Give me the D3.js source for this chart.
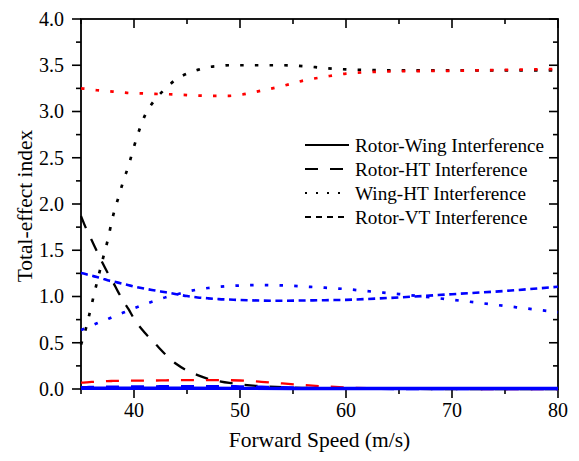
<!DOCTYPE html>
<html>
<head>
<meta charset="utf-8">
<script src="https://cdn.jsdelivr.net/npm/d3@7"></script>
<style>
  html, body { margin: 0; padding: 0; background: #fff; }
  svg { display: block; }
</style>
</head>
<body>
<svg id="chart" width="579" height="461"></svg>
<script>
// ---------------- data ----------------
const speed = [35,35.5,36,36.5,37,37.5,38,38.5,39,39.5,40,41,42,43,44,45,46,47,48,49,50,52,54,56,58,60,62,65,70,75,80];

const blackWingHT = [0.48,0.67,0.91,1.15,1.38,1.60,1.86,2.06,2.25,2.42,2.62,2.95,3.13,3.25,3.35,3.41,3.45,3.48,3.49,3.50,3.50,3.50,3.50,3.49,3.47,3.455,3.45,3.445,3.445,3.445,3.445];
const redWingHT   = [3.25,3.245,3.235,3.23,3.225,3.22,3.215,3.21,3.205,3.20,3.198,3.195,3.19,3.188,3.183,3.178,3.172,3.17,3.17,3.17,3.18,3.225,3.275,3.335,3.375,3.41,3.425,3.435,3.44,3.45,3.46];
const blueWingHT  = [0.638,0.66,0.685,0.71,0.733,0.755,0.78,0.803,0.826,0.85,0.872,0.915,0.955,0.992,1.022,1.052,1.075,1.092,1.104,1.113,1.119,1.124,1.12,1.108,1.095,1.08,1.058,1.026,0.965,0.898,0.83];
const blueRotorVT = [1.255,1.24,1.225,1.21,1.195,1.175,1.163,1.15,1.136,1.122,1.108,1.085,1.065,1.045,1.025,1.005,0.99,0.98,0.972,0.967,0.962,0.956,0.954,0.957,0.96,0.964,0.973,0.99,1.025,1.06,1.105];
const blackRotorHT = [1.87,1.73,1.61,1.49,1.37,1.26,1.16,1.05,0.95,0.86,0.76,0.61,0.49,0.37,0.27,0.20,0.15,0.11,0.085,0.065,0.05,0.03,0.02,0.012,0.006,0.003,0.002,0.001,0,0,0];
const redRotorHT   = [0.068,0.072,0.076,0.079,0.082,0.085,0.087,0.088,0.089,0.09,0.09,0.091,0.092,0.094,0.096,0.097,0.097,0.097,0.096,0.095,0.092,0.078,0.06,0.043,0.028,0.016,0.008,0.003,0.001,0,0];
const blueRotorHT  = [0.02,0.021,0.022,0.023,0.024,0.025,0.025,0.026,0.026,0.027,0.027,0.028,0.029,0.03,0.03,0.031,0.031,0.031,0.03,0.03,0.029,0.025,0.02,0.013,0.007,0.003,0.001,0,0,0,0];

// near-zero series (sparse sampling)
const lowSpeed = [35,45,55,65,80];
const blackRotorWing = [0.006,0.006,0.004,0.003,0.003];
const redRotorWing   = [0.005,0.005,0.004,0.003,0.003];
const blueRotorWing  = [0.008,0.008,0.006,0.005,0.005];
const blackRotorVT   = [0.004,0.004,0.003,0.002,0.002];
const redRotorVT     = [0.004,0.004,0.003,0.002,0.002];

const legendLabels = ["Rotor-Wing Interference","Rotor-HT Interference","Wing-HT Interference","Rotor-VT Interference"];
const xMajorTicks = [40,50,60,70,80];
const xMinorTicks = [35,45,55,65,75];
const yMajorTicks = [0,0.5,1.0,1.5,2.0,2.5,3.0,3.5,4.0];
const yMinorTicks = [0.25,0.75,1.25,1.75,2.25,2.75,3.25,3.75];

// ---------------- styles ----------------
const FONT = "Liberation Serif";
const COL = { black: "#000000", red: "#ff0000", blue: "#0000ff" };
const STYLE = {
  solid:     { dash: null,       w: 2.2 },
  longDash:  { dash: "13,12",    w: 2.3 },
  dotted:    { dash: "3.5,11.2", w: 2.7 },
  shortDash: { dash: "7,4.6",    w: 2.6 }
};

const series = [
  { x: lowSpeed, y: blackRotorVT,   color: COL.black, style: "shortDash" },
  { x: lowSpeed, y: redRotorVT,     color: COL.red,   style: "shortDash" },
  { x: speed, y: blackWingHT,  color: COL.black, style: "dotted" },
  { x: speed, y: redWingHT,    color: COL.red,   style: "dotted" },
  { x: speed, y: blueWingHT,   color: COL.blue,  style: "dotted" },
  { x: speed, y: blueRotorVT,  color: COL.blue,  style: "shortDash" },
  { x: speed, y: blackRotorHT, color: COL.black, style: "longDash" },
  { x: speed, y: redRotorHT,   color: COL.red,   style: "longDash" },
  { x: speed, y: blueRotorHT,  color: COL.blue,  style: "longDash" },
  { x: lowSpeed, y: blackRotorWing, color: COL.black, style: "solid" },
  { x: lowSpeed, y: redRotorWing,   color: COL.red,   style: "solid" },
  { x: lowSpeed, y: blueRotorWing,  color: COL.blue,  style: "solid", w: 3.4 }
];

// ---------------- layout ----------------
const svg = d3.select("#chart");
const L = 81, R = 558, T = 19, B = 389;
const x = d3.scaleLinear().domain([35, 80]).range([L, R]);
const y = d3.scaleLinear().domain([0, 4]).range([B, T]);

const MAJ = 9, MIN = 5;
const axisW = 1.8;

// axes (left/bottom ticks outward; top/right ticks inward)
const gAxes = svg.append("g");
const ticksG = gAxes.append("g").attr("stroke", "#000").attr("stroke-width", 1.6);
xMajorTicks.forEach(v => {
  ticksG.append("line").attr("x1", x(v)).attr("x2", x(v)).attr("y1", B).attr("y2", B + MAJ);
  ticksG.append("line").attr("x1", x(v)).attr("x2", x(v)).attr("y1", T).attr("y2", T + MAJ);
});
xMinorTicks.forEach(v => {
  ticksG.append("line").attr("x1", x(v)).attr("x2", x(v)).attr("y1", B).attr("y2", B + MIN);
  ticksG.append("line").attr("x1", x(v)).attr("x2", x(v)).attr("y1", T).attr("y2", T + MIN);
});
yMajorTicks.forEach(v => {
  ticksG.append("line").attr("x1", L - MAJ).attr("x2", L).attr("y1", y(v)).attr("y2", y(v));
  ticksG.append("line").attr("x1", R - MAJ).attr("x2", R).attr("y1", y(v)).attr("y2", y(v));
});
yMinorTicks.forEach(v => {
  ticksG.append("line").attr("x1", L - MIN).attr("x2", L).attr("y1", y(v)).attr("y2", y(v));
  ticksG.append("line").attr("x1", R - MIN).attr("x2", R).attr("y1", y(v)).attr("y2", y(v));
});
gAxes.append("rect").attr("x", L).attr("y", T).attr("width", R - L).attr("height", B - T)
  .attr("fill", "none").attr("stroke", "#000").attr("stroke-width", axisW);

// tick labels
const fmtY = d3.format(".1f");
gAxes.append("g").selectAll("text").data(yMajorTicks).join("text")
  .attr("x", 64).attr("y", d => y(d)).attr("dy", "0.34em")
  .attr("text-anchor", "end").attr("font-family", FONT).attr("font-size", 20).text(d => fmtY(d));
gAxes.append("g").selectAll("text").data(xMajorTicks).join("text")
  .attr("x", d => x(d)).attr("y", 417)
  .attr("text-anchor", "middle").attr("font-family", FONT).attr("font-size", 20).text(d => d);

// axis titles
svg.append("text").attr("x", (L + R) / 2).attr("y", 447).attr("text-anchor", "middle")
  .attr("font-family", FONT).attr("font-size", 21.5).text("Forward Speed (m/s)");
svg.append("text").attr("transform", `translate(32,${(T + B) / 2 + 2}) rotate(-90)`)
  .attr("text-anchor", "middle").attr("font-family", FONT).attr("font-size", 21.5).text("Total-effect index");

// lines
const line = d3.line().curve(d3.curveMonotoneX);
const gLines = svg.append("g").attr("fill", "none");
series.forEach(s => {
  const st = STYLE[s.style];
  const pts = s.x.map((v, i) => [x(v), y(s.y[i])]);
  gLines.append("path").attr("d", line(pts))
    .attr("stroke", s.color).attr("stroke-width", s.w || st.w)
    .attr("stroke-dasharray", st.dash);
});

// legend
const legendStyles = [
  { dash: null, w: 2 },
  { dash: "13,12", w: 2.2 },
  { dash: "2,9", w: 2 },
  { dash: "6,5", w: 2.2 }
];
const legY = [145, 169, 193, 217];
const gLeg = svg.append("g");
legendLabels.forEach((lab, i) => {
  gLeg.append("line").attr("x1", 305).attr("x2", 349).attr("y1", legY[i]).attr("y2", legY[i])
    .attr("stroke", "#000").attr("stroke-width", legendStyles[i].w)
    .attr("stroke-dasharray", legendStyles[i].dash);
  gLeg.append("text").attr("x", 355).attr("y", legY[i]).attr("dy", "0.34em")
    .attr("font-family", FONT).attr("font-size", 19.2).text(lab);
});
</script>
</body>
</html>
